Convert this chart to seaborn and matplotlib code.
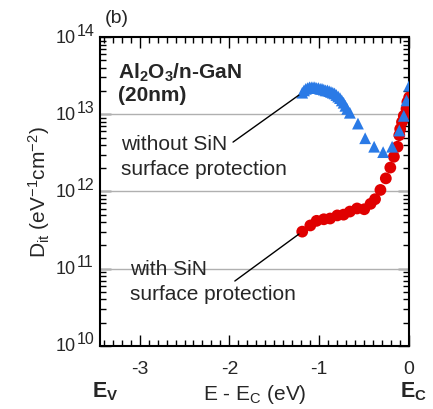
import numpy as np
import pandas as pd
import seaborn as sns
import matplotlib.pyplot as plt
import matplotlib.transforms as mtransforms

# data: energy (eV) vs log10(Dit)
e_with = [-1.19, -1.10, -1.03, -0.95, -0.88, -0.80, -0.73, -0.66, -0.58, -0.50,
          -0.43, -0.38, -0.32, -0.26, -0.21, -0.17, -0.13, -0.11, -0.10, -0.08,
          -0.06, -0.03, -0.02, 0.00]
log_with = [11.48, 11.56, 11.62, 11.64, 11.65, 11.69, 11.70, 11.74, 11.78, 11.77,
            11.84, 11.90, 12.02, 12.17, 12.31, 12.45, 12.58, 12.73, 12.81, 12.90,
            12.98, 13.07, 13.16, 13.22]

e_without = [-1.19, -1.17, -1.15, -1.13, -1.11, -1.09, -1.07, -1.05, -1.03, -1.01,
             -0.99, -0.97, -0.95, -0.93, -0.91, -0.89, -0.87, -0.85, -0.83, -0.81,
             -0.79, -0.77, -0.75, -0.73, -0.71, -0.69, -0.66, -0.57, -0.49, -0.39,
             -0.29, -0.19, -0.11, -0.06, -0.03, 0.00]
log_without = [13.28, 13.31, 13.33, 13.34, 13.35, 13.35, 13.35, 13.35, 13.34, 13.34,
               13.33, 13.33, 13.32, 13.31, 13.31, 13.30, 13.29, 13.28, 13.27, 13.25,
               13.23, 13.21, 13.18, 13.15, 13.11, 13.07, 13.02, 12.88, 12.69, 12.58,
               12.51, 12.58, 12.79, 12.98, 13.18, 13.37]

x_ticks = [-3, -2, -1, 0]
x_ticklabels = ['-3', '-2', '-1', '0']
y_decades = [10, 11, 12, 13, 14]

df = pd.DataFrame({
    'E': e_with + e_without,
    'Dit': 10 ** np.array(log_with + log_without),
    'cond': ['with'] * len(e_with) + ['without'] * len(e_without),
})

sns.set_style("ticks")
plt.rcParams['font.family'] = ['Liberation Sans', 'DejaVu Sans']
plt.rcParams['mathtext.fontset'] = 'custom'
plt.rcParams['mathtext.rm'] = 'Liberation Sans'
plt.rcParams['mathtext.it'] = 'Liberation Sans:italic'
plt.rcParams['mathtext.bf'] = 'Liberation Sans:bold'

fig = plt.figure(figsize=(4.33, 4.10), dpi=100)
ax = fig.add_axes([0.231, 0.154, 0.714, 0.753])

sns.scatterplot(data=df, x='E', y='Dit', hue='cond', style='cond',
                palette={'with': '#e00000', 'without': '#2a7ae6'},
                markers={'with': 'o', 'without': '^'},
                s=72, linewidth=0, legend=False, ax=ax, zorder=3)

ax.set_yscale('log')
ax.set_xlim(-3.44, 0.0)
ax.set_ylim(10.0 ** y_decades[0], 10.0 ** y_decades[-1])
ax.set_xticks(x_ticks)
ax.set_xticklabels(x_ticklabels)
ax.set_xticks(np.arange(-3.4, 0.0, 0.1), minor=True)
ax.set_yticks([10.0 ** d for d in y_decades])
ax.set_yticklabels([''] * len(y_decades))
for d in y_decades[1:-1]:
    ax.axhline(10.0 ** d, color='#b0b0b0', lw=1, zorder=1)

ax.tick_params(which='both', direction='in', top=True, right=True,
               width=1, color='black')
ax.tick_params(axis='x', labelsize=14, pad=10)
ax.tick_params(which='major', length=8)
ax.tick_params(which='minor', length=4)
for sp in ax.spines.values():
    sp.set_linewidth(1.5)
    sp.set_color('black')

# y tick labels: "10" with a near full-size exponent, as in the original
trans = mtransforms.blended_transform_factory(ax.transAxes, ax.transData)
trans_up = mtransforms.offset_copy(trans, fig=fig, x=0, y=7, units='dots')
for d in y_decades:
    ax.text(-0.078, 10.0 ** d, '10', transform=trans, fontsize=13,
            ha='right', va='center')
    ax.text(-0.075, 10.0 ** d, str(d), transform=trans_up, fontsize=11.5,
            ha='left', va='center')

ax.set_xlabel('E - E$_\\mathrm{C}$ (eV)', fontsize=15, labelpad=4)
ax.set_ylabel('D$_\\mathrm{it}$ (eV$^{-1}$cm$^{-2}$)', fontsize=15)
ax.yaxis.set_label_coords(-0.155, 0.5)

fig.text(0.243, 0.955, '(b)', fontsize=14, va='center')
ax.text(0.058, 0.925, 'Al$_\\mathbf{2}$O$_\\mathbf{3}$/n-GaN\n(20nm)',
        transform=ax.transAxes, fontsize=15, fontweight='bold', va='top',
        linespacing=1.15)

# labels and leader lines
ax.text(-3.21, 10 ** 12.46, 'without SiN\nsurface protection', fontsize=15,
        va='center', linespacing=1.45)
ax.annotate('', xy=(-1.19, 10 ** 13.28), xytext=(-1.96, 10 ** 12.64),
            arrowprops=dict(arrowstyle='-', color='black', lw=1,
                            shrinkA=0, shrinkB=3))
ax.text(-3.11, 10 ** 10.84, 'with SiN\nsurface protection', fontsize=15,
        va='center', linespacing=1.45)
ax.annotate('', xy=(-1.19, 10 ** 11.48), xytext=(-1.94, 10 ** 10.84),
            arrowprops=dict(arrowstyle='-', color='black', lw=1,
                            shrinkA=0, shrinkB=3))

fig.text(0.212, 0.045, 'E$_\\mathbf{V}$', fontsize=15.5, fontweight='bold', va='center')
fig.text(0.924, 0.045, 'E$_\\mathbf{C}$', fontsize=15.5, fontweight='bold', va='center')

fig.savefig('out.png', dpi=100)
